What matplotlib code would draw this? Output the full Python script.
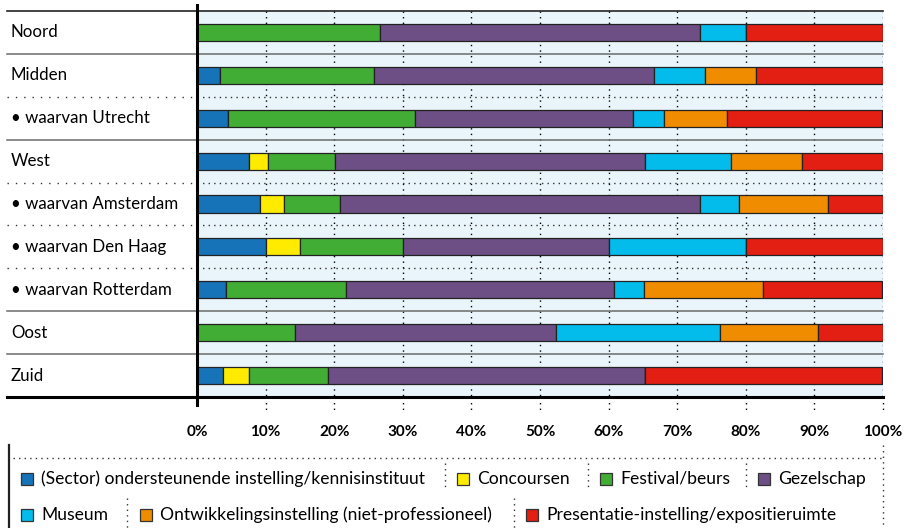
import numpy as np
import matplotlib
matplotlib.use("Agg")
from matplotlib import pyplot as plt
from matplotlib.patches import Rectangle
from matplotlib.lines import Line2D

plt.rcParams['font.family'] = ['Lato', 'DejaVu Sans']

# data (percentages per region)
categories = ["Noord", "Midden", "• waarvan Utrecht", "West", "• waarvan Amsterdam",
              "• waarvan Den Haag", "• waarvan Rotterdam", "Oost", "Zuid"]
sector = [0, 3.4, 4.5, 7.6, 9.2, 10, 4.3, 0, 3.8]
concoursen = [0, 0, 0, 2.7, 3.5, 5, 0, 0, 3.8]
festival = [26.7, 22.4, 27.3, 9.8, 8.1, 15, 17.4, 14.3, 11.5]
gezelschap = [46.6, 40.8, 31.8, 45.2, 52.5, 30, 39.1, 38.1, 46.2]
museum = [6.7, 7.4, 4.5, 12.5, 5.7, 20, 4.3, 23.8, 0]
ontwikkeling = [0, 7.5, 9.1, 10.4, 13.0, 0, 17.4, 14.3, 0]
presentatie = [20, 18.5, 22.7, 11.8, 8.0, 20, 17.4, 9.5, 34.6]

series_names = ["(Sector) ondersteunende instelling/kennisinstituut", "Concoursen",
                "Festival/beurs", "Gezelschap", "Museum",
                "Ontwikkelingsinstelling (niet-professioneel)",
                "Presentatie-instelling/expositieruimte"]
series = [sector, concoursen, festival, gezelschap, museum, ontwikkeling, presentatie]
colors = ["#1673B8", "#FFEB00", "#42AD34", "#6D4F86", "#03BCEB", "#F08C00", "#E31E12"]

# separator after each row: 's' solid, 'd' dotted
separators = ['s', 'd', 's', 'd', 'd', 'd', 's', 's']

W, H = 907, 528
fig = plt.figure(figsize=(W / 100, H / 100), dpi=100)

def fx(x):
    return x / W

def fy(y):
    return 1 - y / H

L, R, T, B = 197, 883, 11, 397
ax = fig.add_axes([fx(L), fy(B), fx(R) - fx(L), fy(T) - fy(B)])
ax.set_facecolor("#EAF5FB")
ax.set_xlim(0, 100)
ax.set_ylim(len(categories), 0)
for s in ax.spines.values():
    s.set_visible(False)
ax.set_yticks([])
ax.set_xticks(np.arange(0, 101, 10))
ax.set_xticklabels([f"{t}%" for t in range(0, 101, 10)], fontsize=11, fontweight='bold')
ax.tick_params(axis='x', length=0, pad=20)

# vertical dotted grid
for t in range(10, 101, 10):
    ax.plot([t, t], [0, len(categories)], color='black', lw=1, ls=(0, (1, 3)), zorder=1)
    ax.plot([t, t], [len(categories), len(categories) + 0.32], color='black', lw=1,
            ls=(0, (1, 3)), clip_on=False, zorder=1)

y = np.arange(len(categories)) + 0.5
left = np.zeros(len(categories))
for vals, col in zip(series, colors):
    vals = np.array(vals)
    ax.barh(y, vals, left=left, height=0.4, color=col, edgecolor='#222222', lw=0.9, zorder=3)
    left += vals

xl = (7 - L) / (R - L) * 100  # left end of the label area, in data units
for i, s in enumerate(separators):
    yy = i + 1
    if s == 's':
        ax.plot([xl, 100], [yy, yy], color='#6b6b6b', lw=1.1, clip_on=False, zorder=2)
    else:
        ax.plot([xl, 0], [yy, yy], color='#333333', lw=1, ls=(0, (1, 5)), clip_on=False, zorder=2)
        ax.plot([0, 100], [yy, yy], color='#333333', lw=1, ls=(0, (1, 3)), zorder=2)

# top and bottom lines, vertical axis
ax.plot([xl, 100], [0, 0], color='#222222', lw=1.2, clip_on=False, zorder=4)
ax.plot([xl, 100], [len(categories)] * 2, color='black', lw=2.2, clip_on=False, zorder=4)
ax.plot([0, 0], [-0.15, len(categories) + 0.19], color='black', lw=2.2, clip_on=False, zorder=5)

for i, c in enumerate(categories):
    ax.text((11 - L) / (R - L) * 100, i + 0.5, c, fontsize=12.2, va='center', ha='left',
            clip_on=False)

# legend
def fline(x0, y0, x1, y1, **kw):
    fig.add_artist(Line2D([fx(x0), fx(x1)], [fy(y0), fy(y1)], transform=fig.transFigure, **kw))

fline(9, 445, 9, 528, color='#222222', lw=1.6)
fline(13, 458, 883, 458, color='#333333', lw=1, ls=(0, (1, 3)))
fline(883, 445, 883, 528, color='#333333', lw=1, ls=(0, (1, 3)))

legend_rows = [
    (479, [(0, 21, None), (1, 457, 445), (2, 600, 588), (3, 758, 746)], (463, 490)),
    (515, [(4, 21, None), (5, 140, 127), (6, 526, 514)], (498, 528)),
]
for ly, items, (sy0, sy1) in legend_rows:
    for k, sx, sep in items:
        if sep is not None:
            fline(sep, sy0, sep, sy1, color='#333333', lw=1, ls=(0, (1, 3)))
        fig.add_artist(Rectangle((fx(sx), fy(ly + 6)), 12 / W, 12 / H, transform=fig.transFigure,
                                 facecolor=colors[k], edgecolor='#333333', lw=0.9))
        fig.text(fx(sx + 20), fy(ly), series_names[k], fontsize=12.6, va='center', ha='left')

fig.savefig("out.png", dpi=100)
